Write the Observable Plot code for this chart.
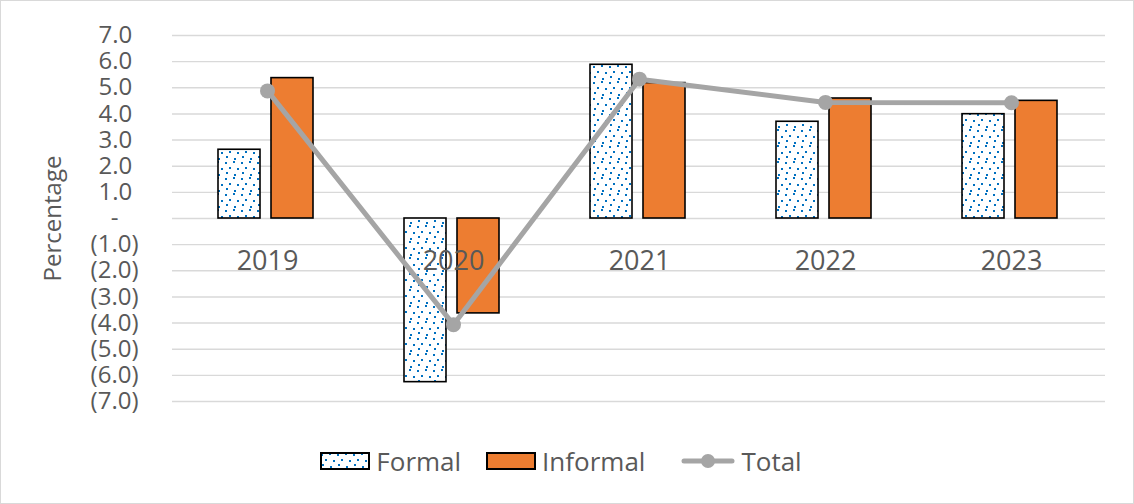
<!DOCTYPE html>
<html>
<head>
<meta charset="utf-8">
<script src="https://cdn.jsdelivr.net/npm/d3@7"></script>
<script src="https://cdn.jsdelivr.net/npm/@observablehq/plot@0.6"></script>
<style>
  html, body { margin: 0; padding: 0; background: #fff; }
  #wrap { position: relative; width: 1134px; height: 504px; font-family: "Open Sans", sans-serif; color: #595959; }
  #border { position: absolute; left: 0; top: 0; width: 1134px; height: 504px; box-sizing: border-box; border: 1px solid #d9d9d9; pointer-events: none; }
  #legend { position: absolute; left: -6px; top: 443px; width: 1134px; height: 36px; display: flex; justify-content: center; align-items: center; font-size: 26px; }
  .item { display: flex; align-items: center; }
  .item svg { display: block; }
  .lab { margin-left: 6px; }
</style>
</head>
<body>
<div id="wrap">
  <div id="chart"></div>
  <div id="legend">
    <div class="item" style="margin-right:25px">
      <svg width="50" height="18"><rect x="1" y="1" width="48" height="16" fill="url(#dots)" stroke="#000" stroke-width="2"/></svg>
      <span class="lab">Formal</span>
    </div>
    <div class="item" style="margin-right:36px">
      <svg width="50" height="18"><rect x="1" y="1" width="48" height="16" fill="#ED7D31" stroke="#000" stroke-width="2"/></svg>
      <span class="lab">Informal</span>
    </div>
    <div class="item">
      <svg width="54" height="18"><line x1="3" y1="9" x2="51" y2="9" stroke="#A5A5A5" stroke-width="5" stroke-linecap="round"/><circle cx="27" cy="9" r="7" fill="#A5A5A5"/></svg>
      <span class="lab">Total</span>
    </div>
  </div>
  <div id="border"></div>
</div>
<svg width="0" height="0" style="position:absolute">
  <defs>
    <pattern id="dots" width="16" height="16" patternUnits="userSpaceOnUse">
      <rect width="16" height="16" fill="#fff"/>
      <rect x="1" y="2" width="2" height="2" fill="#0070C0"/>
      <rect x="9" y="1" width="2" height="2" fill="#0070C0"/>
      <rect x="5" y="7" width="2" height="2" fill="#0070C0"/>
      <rect x="13" y="8" width="2" height="2" fill="#0070C0"/>
      <rect x="2" y="12" width="2" height="2" fill="#0070C0"/>
      <rect x="10" y="14" width="2" height="2" fill="#0070C0"/>
    </pattern>
  </defs>
</svg>
<script>
const years = ["2019", "2020", "2021", "2022", "2023"];
const formal = [2.63, -6.26, 5.88, 3.70, 3.99];
const informal = [5.37, -3.63, 5.18, 4.59, 4.50];
const total = [4.88, -4.06, 5.33, 4.44, 4.43];
const yTicks = [-7, -6, -5, -4, -3, -2, -1, 0, 1, 2, 3, 4, 5, 6, 7];
const yLabel = "Percentage";

const rows = years.map((y, i) => ({year: y, formal: formal[i], informal: informal[i], total: total[i]}));

const fmt = d => d === 0 ? "-\u2007\u2008" : d < 0 ? `(${(-d).toFixed(1)})` : d.toFixed(1) + "\u2008";

const chart = Plot.plot({
  width: 1134,
  height: 430,
  marginLeft: 172,
  marginRight: 29,
  marginTop: 35,
  marginBottom: 29,
  style: {fontFamily: "'Open Sans', sans-serif", background: "transparent", color: "#595959"},
  x: {type: "band", domain: years, padding: 0, axis: null},
  y: {domain: [-7, 7], axis: null},
  marks: [
    Plot.ruleY(yTicks, {stroke: "#d9d9d9", strokeWidth: 1.4}),
    Plot.barY(rows, {x: "year", y: "formal", fill: "url(#dots)", stroke: "#000", strokeWidth: 1.6, insetLeft: 44, insetRight: 100}),
    Plot.barY(rows, {x: "year", y: "informal", fill: "#ED7D31", stroke: "#000", strokeWidth: 1.6, insetLeft: 97, insetRight: 47}),
    Plot.line(rows, {x: "year", y: "total", stroke: "#A5A5A5", strokeWidth: 5}),
    Plot.dot(rows, {x: "year", y: "total", r: 7.5, fill: "#A5A5A5"}),
    Plot.text(rows, {x: "year", y: () => 0, dy: 43, text: "year", fontSize: 27, fill: "#595959"}),
    Plot.text(yTicks, {y: d => d, frameAnchor: "left", dx: -34, textAnchor: "end", text: fmt, fontSize: 24, fill: "#595959"}),
    Plot.text([yLabel], {frameAnchor: "left", rotate: -90, dx: -119, textAnchor: "middle", text: d => d, fontSize: 24, fill: "#595959"})
  ]
});

document.getElementById("chart").appendChild(chart);
</script>
</body>
</html>
